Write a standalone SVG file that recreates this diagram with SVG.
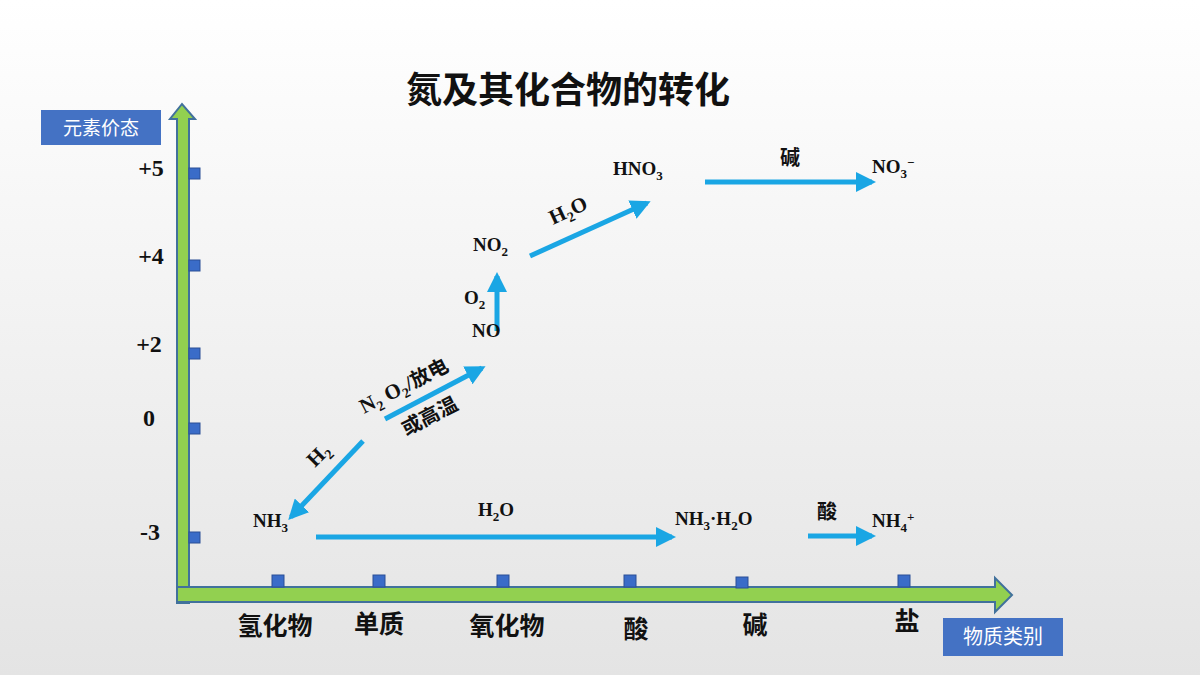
<svg xmlns="http://www.w3.org/2000/svg" width="1200" height="675" viewBox="0 0 1200 675">
<defs>
<linearGradient id="bg" x1="0" y1="0" x2="0" y2="1"><stop offset="0" stop-color="#ffffff"/><stop offset="1" stop-color="#e4e4e4"/></linearGradient>
<marker id="ah" viewBox="0 0 10 10" refX="8" refY="5" markerWidth="4" markerHeight="4" orient="auto" markerUnits="strokeWidth"><path d="M0,0 L10,5 L0,10 z" fill="#1aa6e4"/></marker>
<style>
.f{font-family:"Liberation Serif","Times New Roman",serif;font-weight:bold;fill:#111}
.c{font-family:"Noto Sans CJK SC",sans-serif;font-weight:bold;fill:#111}
.w{font-family:"Noto Sans CJK SC",sans-serif;fill:#fff}
.ar{stroke:#1aa6e4;stroke-width:5;fill:none;marker-end:url(#ah)}
.tk{fill:#3a6cc8;stroke:#2a4f96;stroke-width:1}
.ax{fill:#92d050;stroke:#41719c;stroke-width:2}
</style>
</defs>
<rect width="1200" height="675" fill="url(#bg)"/>
<text x="568" y="103" class="c" font-size="36" text-anchor="middle">氮及其化合物的转化</text>
<g id="yaxis">
<path class="ax" d="M177,603 L177,119 L170,119 L182,104 L195,119 L189,119 L189,603 Z"/>
<rect class="tk" x="189" y="168" width="11" height="11"/><rect class="tk" x="189" y="260" width="11" height="11"/><rect class="tk" x="189" y="348" width="11" height="11"/><rect class="tk" x="189" y="423" width="11" height="11"/><rect class="tk" x="189" y="532" width="11" height="11"/>
</g>
<g id="xaxis">
<path class="ax" d="M177,587 L995,587 L995,578 L1012,595 L995,612 L995,602 L177,602 Z"/>
<rect class="tk" x="272" y="575" width="12" height="12"/><rect class="tk" x="373" y="575" width="12" height="12"/><rect class="tk" x="497" y="575" width="12" height="12"/><rect class="tk" x="624" y="575" width="12" height="12"/><rect class="tk" x="736" y="577" width="12" height="11"/><rect class="tk" x="898" y="575" width="12" height="12"/>
</g>
<g id="ylabel"><rect x="41" y="110" width="120" height="35" fill="#4472c4"/><text x="101" y="135" class="w" font-size="19" text-anchor="middle">元素价态</text></g>
<g id="xlabel"><rect x="943" y="618" width="120" height="38" fill="#4472c4"/><text x="1003" y="644" class="w" font-size="20" text-anchor="middle">物质类别</text></g>
<g class="f" font-size="24" text-anchor="middle">
<text x="151" y="176">+5</text><text x="151" y="264">+4</text><text x="149" y="352">+2</text><text x="149" y="426">0</text><text x="150" y="540">-3</text>
</g>
<g class="c" font-size="25" text-anchor="middle">
<text x="275" y="635">氢化物</text><text x="379" y="633">单质</text><text x="507" y="635">氧化物</text><text x="636" y="638">酸</text><text x="755" y="634">碱</text><text x="907" y="630">盐</text>
</g>
<g id="connectors">
<line class="ar" x1="705" y1="182" x2="872" y2="182"/>
<line class="ar" x1="530" y1="256" x2="647" y2="203"/>
<line class="ar" x1="497" y1="331" x2="497" y2="276"/>
<line class="ar" x1="385" y1="419" x2="482" y2="368"/>
<line class="ar" x1="363" y1="441" x2="291" y2="517"/>
<line class="ar" x1="316" y1="537" x2="672" y2="537"/>
<line class="ar" x1="808" y1="536" x2="872" y2="536"/>
</g>
<g class="f" font-size="19">
<text x="613" y="175">HNO<tspan font-size="13" dy="5">3</tspan></text>
<text x="872" y="173">NO<tspan font-size="13" dy="5">3</tspan><tspan font-size="13" dy="-11">−</tspan></text>
<text x="473" y="251">NO<tspan font-size="13" dy="5">2</tspan></text>
<text x="472" y="337">NO</text>
<text x="464" y="304">O<tspan font-size="13" dy="5">2</tspan></text>
<text x="253" y="527">NH<tspan font-size="13" dy="5">3</tspan></text>
<text x="478" y="516">H<tspan font-size="13" dy="5">2</tspan><tspan dy="-5">O</tspan></text>
<text x="675" y="525">NH<tspan font-size="13" dy="5">3</tspan><tspan dy="-5">·H</tspan><tspan font-size="13" dy="5">2</tspan><tspan dy="-5">O</tspan></text>
<text x="872" y="527">NH<tspan font-size="13" dy="5">4</tspan><tspan font-size="13" dy="-11">+</tspan></text>
<text transform="translate(553,225) rotate(-25)" font-size="21">H<tspan font-size="14" dy="5">2</tspan><tspan dy="-5">O</tspan></text>
<text transform="translate(315,468) rotate(-45)" font-size="21">H<tspan font-size="14" dy="5">2</tspan></text>
<text transform="translate(364,414) rotate(-27)" font-size="21">N<tspan font-size="14" dy="5">2</tspan><tspan dy="-5"> O</tspan><tspan font-size="14" dy="5">2</tspan><tspan dy="-5">/</tspan><tspan class="c" font-size="20">放电</tspan></text>
<text transform="translate(406,436) rotate(-27)" class="c" font-size="20">或高温</text>
</g>
<text x="780" y="165" class="c" font-size="20" font-weight="normal">碱</text>
<text x="817" y="519" class="c" font-size="20" font-weight="normal">酸</text>
</svg>
